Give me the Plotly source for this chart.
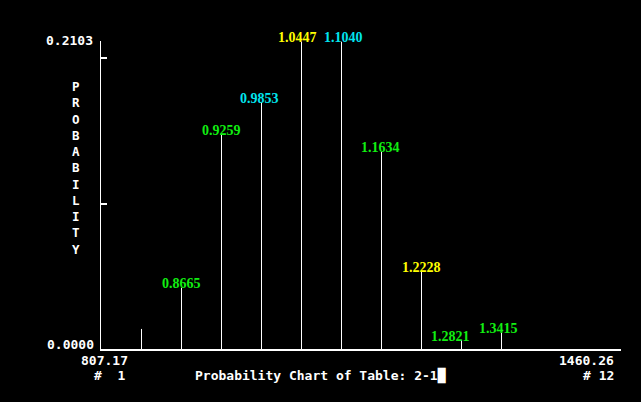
import plotly.graph_objects as go

# Data
class_index = [1, 2, 3, 4, 5, 6, 7, 8, 9, 10, 11, 12]
probabilities = [0.0145, 0.0443, 0.1547, 0.1783, 0.2221, 0.2221,
                 0.1426, 0.0559, 0.0065, 0.0118, 0.0, 0.0]
value_labels = [None, "0.8665", "0.9259", "0.9853", "1.0447", "1.1040",
                "1.1634", "1.2228", "1.2821", "1.3415", None, None]
label_colors = [None, "#11ee11", "#11ee11", "#00e5ee", "#ffff00", "#00e5ee",
                "#11ee11", "#ffff00", "#11ee11", "#11ee11", None, None]
y_max_label = "0.2103"
y_min_label = "0.0000"
y_max_value = 0.2103
x_min_label = "807.17"
x_max_label = "1460.26"
first_class = "#  1"
last_class = "# 12"
title_text = "Probability Chart of Table: 2-1"
axis_title = "PROBABILITY"

mono = "DejaVu Sans Mono"
serif = "Liberation Serif"
# label nudges (pixels) to avoid crowding, keyed by class index
label_xshift = {4: -2, 5: -4, 6: 1.5, 7: -1.5, 9: -11, 10: -3}

# vertical stick lines built from the data
xs, ys = [], []
for x, p in zip(class_index, probabilities):
    if p > 0:
        xs += [x, x, None]
        ys += [0, p, None]

fig = go.Figure()
fig.add_trace(go.Scatter(x=xs, y=ys, mode="lines",
                         line=dict(color="white", width=1),
                         hoverinfo="skip", showlegend=False))

annotations = []
for x, p, lab, col in zip(class_index, probabilities, value_labels, label_colors):
    if lab:
        annotations.append(dict(x=x, y=p, xref="x", yref="y", text="<b>" + lab + "</b>",
                                showarrow=False, yanchor="middle", yshift=4,
                                xshift=label_xshift.get(x, 0),
                                font=dict(family=serif, size=14, color=col)))

txt = dict(color="white", family=mono, size=13)


def b(s):
    return "<b>" + s + "</b>"


annotations += [
    dict(x=-0.0115, y=1.003, xref="paper", yref="paper", text=b(y_max_label), showarrow=False,
         xanchor="right", yanchor="middle", font=txt),
    dict(x=-0.0096, y=0.013, xref="paper", yref="paper", text=b(y_min_label), showarrow=False,
         xanchor="right", yanchor="middle", font=txt),
    dict(x=0.006, y=-0.036, xref="paper", yref="paper", text=b(x_min_label), showarrow=False,
         xanchor="center", yanchor="middle", font=txt),
    dict(x=0.05, y=-0.085, xref="paper", yref="paper", text=b(first_class), showarrow=False,
         xanchor="right", yanchor="middle", font=txt),
    dict(x=0.988, y=-0.037, xref="paper", yref="paper", text=b(x_max_label), showarrow=False,
         xanchor="right", yanchor="middle", font=txt, borderpad=0),
    dict(x=0.988, y=-0.087, xref="paper", yref="paper", text=b(last_class), showarrow=False,
         xanchor="right", yanchor="middle", font=txt, borderpad=0),
    dict(x=0.4218, y=-0.0866, xref="paper", yref="paper", text=b(title_text) + "█",
         showarrow=False, xanchor="center", yanchor="middle", font=txt),
    dict(x=-0.048, y=0.5877, xref="paper", yref="paper",
         text=b("<br>".join(axis_title)), showarrow=False,
         xanchor="center", yanchor="middle",
         font=dict(color="white", family=mono, size=12.5)),
]

fig.update_layout(
    width=641, height=402,
    margin=dict(l=101, r=20, t=41, b=53),
    paper_bgcolor="black", plot_bgcolor="black",
    showlegend=False,
    annotations=annotations,
    xaxis=dict(range=[-0.0125, 12.9875], showgrid=False, zeroline=False,
               showline=True, linecolor="white", linewidth=2,
               showticklabels=False, ticks=""),
    yaxis=dict(range=[0, 0.2226], showgrid=False, zeroline=False,
               showline=True, linecolor="white", linewidth=1,
               tickvals=[y_max_value / 2, y_max_value], ticks="inside",
               ticklen=6, tickwidth=2, tickcolor="white",
               showticklabels=False),
)

fig.write_html(
    "out.html",
    config={"displayModeBar": False, "staticPlot": True},
    post_script="document.body.style.margin='0';document.body.style.background='black';"
                "document.body.style.overflow='hidden';",
)
